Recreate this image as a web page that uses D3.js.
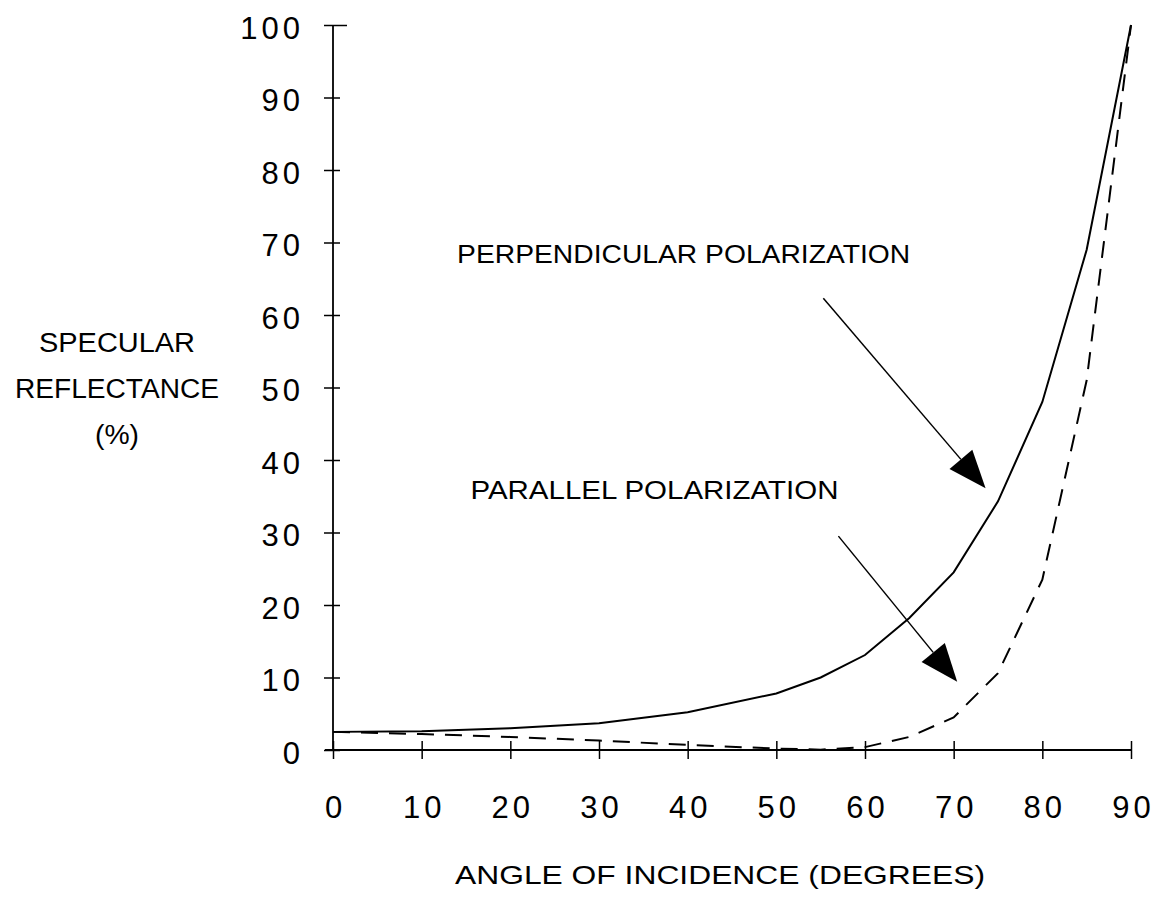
<!doctype html>
<html>
<head>
<script src="https://cdnjs.cloudflare.com/ajax/libs/d3/7.8.5/d3.min.js"></script>
<style>
  body { margin: 0; background: #fff; }
  svg { font-family: "Liberation Sans", Arial, sans-serif; }
  .axis path { display: none; }
  .axis line { stroke: #000; stroke-width: 1.5; }
  .axis text { font-size: 31px; letter-spacing: 4px; fill: #000; }
</style>
</head>
<body>
<script>
// angle of incidence (degrees)
var angles = [0, 10, 20, 30, 40, 50, 55, 60, 65, 70, 75, 80, 85, 90];
// specular reflectance (%)
var perpendicular = [2.5, 2.6, 3.0, 3.7, 5.2, 7.8, 10, 13.1, 18.2, 24.5, 34.3, 48, 69, 100];
var parallel = [2.5, 2.2, 1.8, 1.3, 0.7, 0.2, 0.05, 0.4, 1.8, 4.5, 10.6, 23.5, 51, 100];

var xTicks = [0, 10, 20, 30, 40, 50, 60, 70, 80, 90];
var yTicks = [0, 10, 20, 30, 40, 50, 60, 70, 80, 90, 100];

// annotations: [text x, text y, arrow start x, y, arrow tip x, y]
var perpNote = ["PERPENDICULAR POLARIZATION", 14, 67.2, 55.3, 62.3, 73.6, 36.1];
var paraNote = ["PARALLEL POLARIZATION", 15.5, 34.6, 57.0, 29.5, 70.4, 9.4];

var width = 1155, height = 900;
var svg = d3.select("body").append("svg")
    .attr("width", width)
    .attr("height", height);

var x = d3.scaleLinear().domain([0, 90]).range([333, 1131]);
var y = d3.scaleLinear().domain([0, 100]).range([750, 25]);

// axes lines
svg.append("line")
    .attr("x1", x(0)).attr("x2", x(0))
    .attr("y1", y(0)).attr("y2", y(100))
    .attr("stroke", "#000").attr("stroke-width", 1.8);
svg.append("line")
    .attr("x1", x(0) - 8).attr("x2", x(90))
    .attr("y1", y(0)).attr("y2", y(0))
    .attr("stroke", "#000").attr("stroke-width", 2);

var yAxis = svg.append("g")
    .attr("class", "axis")
    .attr("transform", "translate(" + x(0) + ",0)")
    .call(d3.axisLeft(y).tickValues(yTicks).tickSize(8).tickPadding(21));
yAxis.selectAll(".tick line").attr("x1", 7).attr("x2", -9);
yAxis.selectAll(".tick text").attr("dy", "0.42em");
yAxis.selectAll(".tick").filter(function(d) { return d === 100; })
    .select("line").attr("x1", 14).attr("x2", -9);

var xAxis = svg.append("g")
    .attr("class", "axis")
    .attr("transform", "translate(0," + y(0) + ")")
    .call(d3.axisBottom(x).tickValues(xTicks).tickSize(8).tickPadding(38));
xAxis.selectAll(".tick line").attr("y1", -9).attr("y2", 9);
xAxis.selectAll(".tick text").attr("dx", "2px");

// curves
var line = d3.line()
    .x(function(d, i) { return x(angles[i]); })
    .y(function(d) { return y(d); });

svg.append("path")
    .datum(perpendicular)
    .attr("d", line)
    .attr("fill", "none")
    .attr("stroke", "#000")
    .attr("stroke-width", 2);

svg.append("path")
    .datum(parallel)
    .attr("d", line)
    .attr("fill", "none")
    .attr("stroke", "#000")
    .attr("stroke-width", 2)
    .attr("stroke-dasharray", "17,11");

// annotations
function note(n, textWidth) {
    svg.append("text")
        .attr("x", x(n[1]))
        .attr("y", y(n[2]))
        .attr("font-size", 26)
        .attr("textLength", textWidth)
        .attr("lengthAdjust", "spacingAndGlyphs")
        .text(n[0]);
    var x1 = x(n[3]), y1 = y(n[4]), x2 = x(n[5]), y2 = y(n[6]);
    var ang = Math.atan2(y2 - y1, x2 - x1);
    var len = 38, half = 15;
    var bx = x2 - len * Math.cos(ang), by = y2 - len * Math.sin(ang);
    svg.append("line")
        .attr("x1", x1).attr("y1", y1)
        .attr("x2", bx).attr("y2", by)
        .attr("stroke", "#000").attr("stroke-width", 1.5);
    var pts = [
        [x2, y2],
        [bx + half * Math.sin(ang), by - half * Math.cos(ang)],
        [bx - half * Math.sin(ang), by + half * Math.cos(ang)]
    ];
    svg.append("polygon")
        .attr("points", pts.map(function(p) { return p.join(","); }).join(" "))
        .attr("fill", "#000");
}
note(perpNote, 453);
note(paraNote, 368);

// axis titles
svg.append("text")
    .attr("x", 720).attr("y", 884)
    .attr("text-anchor", "middle")
    .attr("font-size", 26)
    .attr("textLength", 530)
    .attr("lengthAdjust", "spacingAndGlyphs")
    .text("ANGLE OF INCIDENCE (DEGREES)");

var yTitle = ["SPECULAR", "REFLECTANCE", "(%)"];
var yTitleW = [156, 204, 44];
svg.selectAll(".ytitle")
    .data(yTitle)
    .enter().append("text")
    .attr("class", "ytitle")
    .attr("x", 117)
    .attr("y", function(d, i) { return 352 + i * 46; })
    .attr("text-anchor", "middle")
    .attr("font-size", 27)
    .attr("textLength", function(d, i) { return yTitleW[i]; })
    .attr("lengthAdjust", "spacingAndGlyphs")
    .text(function(d) { return d; });
</script>
</body>
</html>
